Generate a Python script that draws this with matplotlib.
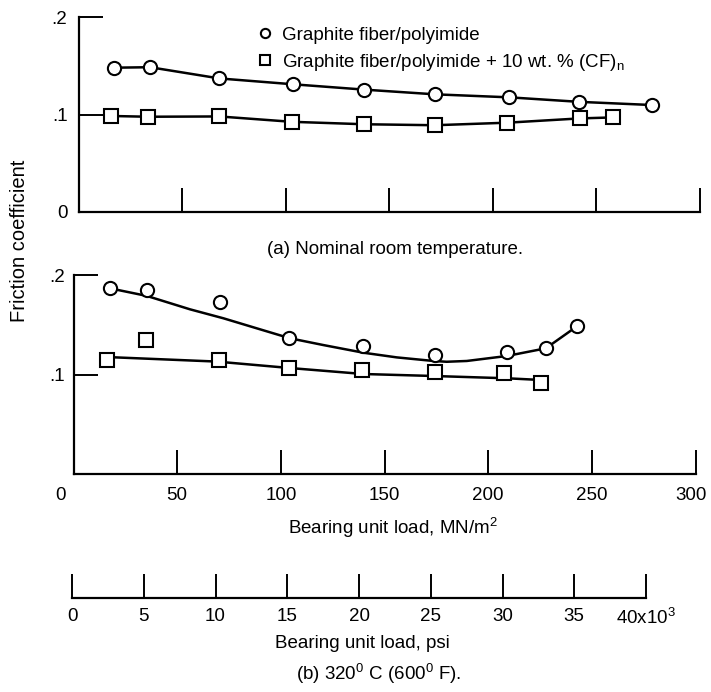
"""Friction coefficient against bearing unit load for graphite fiber/polyimide."""

import matplotlib.pyplot as plt
import matplotlib.transforms as mtransforms

# (a) nominal room temperature
load_a_pi = [17, 34.5, 68, 103.5, 138, 172, 208, 241.5, 277]
mu_a_pi = [0.148, 0.1485, 0.137, 0.131, 0.1255, 0.1207, 0.1176, 0.113, 0.1097]
load_a_cf = [15.5, 33.5, 68, 103, 138, 172, 207, 242, 258]
mu_a_cf = [0.0985, 0.0977, 0.098, 0.0925, 0.0900, 0.0890, 0.0916, 0.0960, 0.0970]

# (b) 320 C (600 F)
load_b_pi = [17.6, 35.3, 70.8, 103.8, 139.5, 174.4, 209, 227.8, 243]
mu_b_pi = [0.1866, 0.185, 0.1725, 0.137, 0.1286, 0.1196, 0.123, 0.1263, 0.1487]
load_b_cf = [16.3, 35, 70, 104, 139, 174.4, 207.7, 225.4]
mu_b_cf = [0.1150, 0.1347, 0.1146, 0.1063, 0.1045, 0.1030, 0.1012, 0.0912]

# faired curves drawn through the (b) data
fair_b_pi_load = [17.6, 35.3, 56.2, 72.3, 88.4, 104.4, 120.5, 139.8, 155.9,
                  173.6, 180, 189.7, 209, 227.8, 243]
fair_b_pi_mu = [0.1866, 0.179, 0.1655, 0.1565, 0.1464, 0.1364, 0.1296,
                0.1219, 0.1172, 0.1136, 0.1128, 0.1136, 0.1186, 0.1263,
                0.1487]
fair_b_cf_load = [16.8, 69, 104.4, 139.8, 173.6, 209, 225.4]
fair_b_cf_mu = [0.1175, 0.113, 0.1065, 0.1005, 0.0985, 0.0962, 0.0945]

# axis ticks
load_ticks = [0, 50, 100, 150, 200, 250, 300]
psi_ticks = [0, 5, 10, 15, 20, 25, 30, 35, 40]
psi_labels = ['0', '5', '10', '15', '20', '25', '30', '35', '40x10$^3$']

labels = ['Graphite fiber/polyimide',
          'Graphite fiber/polyimide + 10 wt. % (CF)$_\\mathregular{n}$']

W, H = 711, 692


def box(left, top, right, bottom):
    """Axes rectangle from pixel edges measured from the top left."""
    return [left/W, 1-bottom/H, (right-left)/W, (bottom-top)/H]


def style(ax):
    """Open axes with inward ticks, as in the report figure."""
    for side in ('top', 'right'):
        ax.spines[side].set_visible(False)
    for side in ('left', 'bottom'):
        ax.spines[side].set_linewidth(1.6)
    ax.tick_params(direction='in', length=17, width=1.4, labelsize=13.5)


def draw(ax, xpi, ypi, xcf, ycf):
    """Plot open circle and open square markers."""
    kw = dict(ls='none', mfc='white', mec='black', mew=1.5, zorder=3)
    ax.plot(xpi, ypi, marker='o', ms=9.5, label=labels[0], **kw)
    ax.plot(xcf, ycf, marker='s', ms=9.5, label=labels[1], **kw)


def shift(label, fig, dx):
    """Move one tick label sideways by dx pixels."""
    label.set_transform(label.get_transform() + mtransforms.ScaledTranslation(
        dx/100, 0, fig.dpi_scale_trans))


def main():
    """Main program called during execution."""

    plt.rcParams['font.family'] = ['Liberation Sans', 'DejaVu Sans']
    plt.rcParams['mathtext.fontset'] = 'custom'
    plt.rcParams['mathtext.rm'] = 'Liberation Sans'
    plt.rcParams['mathtext.it'] = 'Liberation Sans'

    fig = plt.figure(figsize=(W/100, H/100), dpi=100)
    ax_a = fig.add_axes(box(78.5, 17, 700, 212))
    ax_b = fig.add_axes(box(73.5, 275, 695.5, 474))
    ax_p = fig.add_axes(box(72, 570, 646, 598))

    # panel (a), lines join the points
    ax_a.plot(load_a_pi, mu_a_pi, color='black', lw=1.8)
    ax_a.plot(load_a_cf, mu_a_cf, color='black', lw=1.8)
    draw(ax_a, load_a_pi, mu_a_pi, load_a_cf, mu_a_cf)
    ax_a.set_xlim(0, 300)
    ax_a.set_ylim(0, 0.2)
    ax_a.set_xticks(load_ticks[1:])
    ax_a.set_yticks([0, 0.1, 0.2], ['0', '.1', '.2'])
    ax_a.tick_params(axis='x', labelbottom=False)
    style(ax_a)
    ax_a.tick_params(axis='y', pad=8)
    ax_a.legend(loc='upper left', bbox_to_anchor=(0.2705, 1.0),
                frameon=False, fontsize=13.5, handlelength=1.0,
                handletextpad=0.4, labelspacing=0.45, borderpad=0,
                markerscale=0.7)

    # panel (b), faired curves
    ax_b.plot(fair_b_pi_load, fair_b_pi_mu, color='black', lw=1.8)
    ax_b.plot(fair_b_cf_load, fair_b_cf_mu, color='black', lw=1.8)
    draw(ax_b, load_b_pi, mu_b_pi, load_b_cf, mu_b_cf)
    ax_b.set_xlim(0, 300)
    ax_b.set_ylim(0, 0.2)
    ax_b.set_xticks(load_ticks, [str(t) for t in load_ticks])
    ax_b.set_yticks([0.1, 0.2], ['.1', '.2'])
    style(ax_b)
    ax_b.tick_params(axis='x', pad=9)
    ax_b.tick_params(axis='y', pad=6)
    ticklabels = ax_b.get_xticklabels()
    shift(ticklabels[0], fig, -13)
    shift(ticklabels[-1], fig, -4)

    # psi scale
    ax_p.set_xlim(0, 40)
    ax_p.set_ylim(0, 1)
    ax_p.set_xticks(psi_ticks, psi_labels)
    ax_p.set_yticks([])
    ax_p.spines['left'].set_visible(False)
    ax_p.patch.set_visible(False)
    style(ax_p)
    ax_p.tick_params(axis='x', pad=7)

    # captions
    fig.text(20/W, 1-241/H, 'Friction coefficient', rotation=90,
             ha='center', va='center', fontsize=14.5)
    fig.text(395/W, 1-249/H, '(a) Nominal room temperature.',
             ha='center', va='center', fontsize=13.5)
    fig.text(393/W, 1-528/H, 'Bearing unit load, MN/m$^2$',
             ha='center', va='center', fontsize=13.5)
    fig.text(362/W, 1-643/H, 'Bearing unit load, psi',
             ha='center', va='center', fontsize=13.5)
    fig.text(379/W, 1-674/H, '(b) 320$^0$ C (600$^0$ F).',
             ha='center', va='center', fontsize=13.5)

    fig.savefig('out.png', dpi=100)


if __name__ == '__main__':
    main()
